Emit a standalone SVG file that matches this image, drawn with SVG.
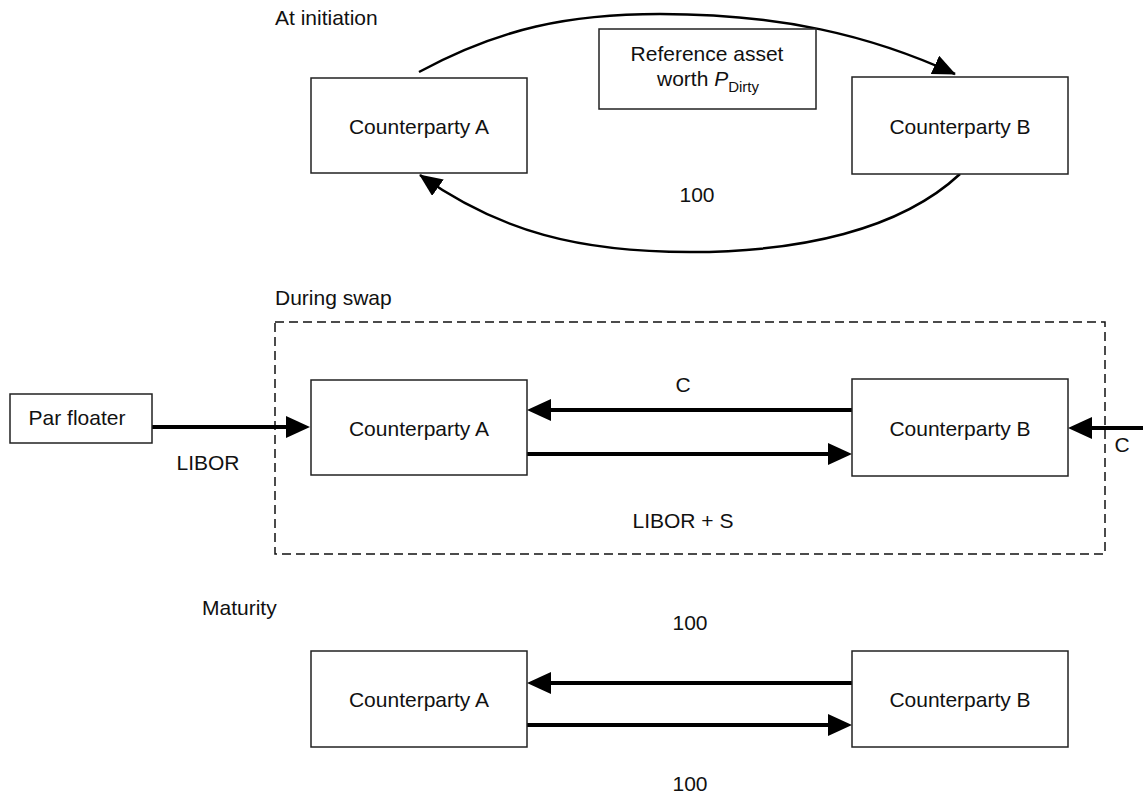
<svg xmlns="http://www.w3.org/2000/svg" width="1143" height="794" viewBox="0 0 1143 794">
<style>
text{font-family:"Liberation Sans",Arial,Helvetica,sans-serif;font-size:21px;fill:#111}
.box{fill:#fff;stroke:#222;stroke-width:1.5}
.thick{fill:none;stroke:#000;stroke-width:4}
.arc{fill:none;stroke:#000;stroke-width:2.5}
.dash{fill:none;stroke:#111;stroke-width:1.5;stroke-dasharray:9 5}
.c{text-anchor:middle}
</style>
<defs>
<marker id="ah" markerUnits="userSpaceOnUse" markerWidth="24" markerHeight="22" viewBox="0 0 24 22" refX="0" refY="11" orient="auto"><path d="M0,0 L24,11 L0,22 z" fill="#000"/></marker>
<marker id="ahc" markerUnits="userSpaceOnUse" markerWidth="23" markerHeight="20" viewBox="0 0 23 20" refX="22" refY="10" orient="auto"><path d="M0,0 L23,10 L0,20 z" fill="#000"/></marker>
</defs>

<g id="labels">
<text x="275" y="25">At initiation</text>
<text x="275" y="305">During swap</text>
<text x="202" y="615">Maturity</text>
</g>

<g id="dashed-frame"><rect class="dash" x="275" y="322" width="830" height="232"/></g>

<g id="connectors">
<path class="arc" d="M419,72 C500,28 570,14 660,14 C780,14 870,35 955,74" marker-end="url(#ahc)"/>
<path class="arc" d="M960,174 C900,230 800,252 690,252 C580,252 500,232 420,175" marker-end="url(#ahc)"/>
<path class="thick" d="M152,427 H286" marker-end="url(#ah)"/>
<path class="thick" d="M852,410 H551" marker-end="url(#ah)"/>
<path class="thick" d="M527,454 H828" marker-end="url(#ah)"/>
<path class="thick" d="M1143,428 H1092" marker-end="url(#ah)"/>
<path class="thick" d="M852,683 H551" marker-end="url(#ah)"/>
<path class="thick" d="M527,725 H828" marker-end="url(#ah)"/>
<text class="c" x="697" y="202">100</text>
<text class="c" x="683" y="392">C</text>
<text class="c" x="208" y="470">LIBOR</text>
<text class="c" x="683" y="528">LIBOR + S</text>
<text class="c" x="1122" y="452">C</text>
<text class="c" x="690" y="630">100</text>
<text class="c" x="690" y="791">100</text>
</g>

<g id="ref-asset">
<rect class="box" x="599" y="29" width="217" height="80"/>
<text class="c" x="707" y="61">Reference asset</text>
<text class="c" x="708" y="86">worth <tspan font-style="italic">P</tspan><tspan font-size="15" dy="6">Dirty</tspan></text>
</g>

<g id="cpA-init"><rect class="box" x="311" y="78" width="216" height="95"/><text class="c" x="419" y="134">Counterparty A</text></g>
<g id="cpB-init"><rect class="box" x="852" y="77" width="216" height="97"/><text class="c" x="960" y="134">Counterparty B</text></g>

<g id="par-floater"><rect class="box" x="10" y="394" width="142" height="49"/><text class="c" x="77" y="425">Par floater</text></g>
<g id="cpA-swap"><rect class="box" x="311" y="380" width="216" height="95"/><text class="c" x="419" y="436">Counterparty A</text></g>
<g id="cpB-swap"><rect class="box" x="852" y="379" width="216" height="97"/><text class="c" x="960" y="436">Counterparty B</text></g>

<g id="cpA-mat"><rect class="box" x="311" y="651" width="216" height="96"/><text class="c" x="419" y="707">Counterparty A</text></g>
<g id="cpB-mat"><rect class="box" x="852" y="651" width="216" height="96"/><text class="c" x="960" y="707">Counterparty B</text></g>
</svg>
